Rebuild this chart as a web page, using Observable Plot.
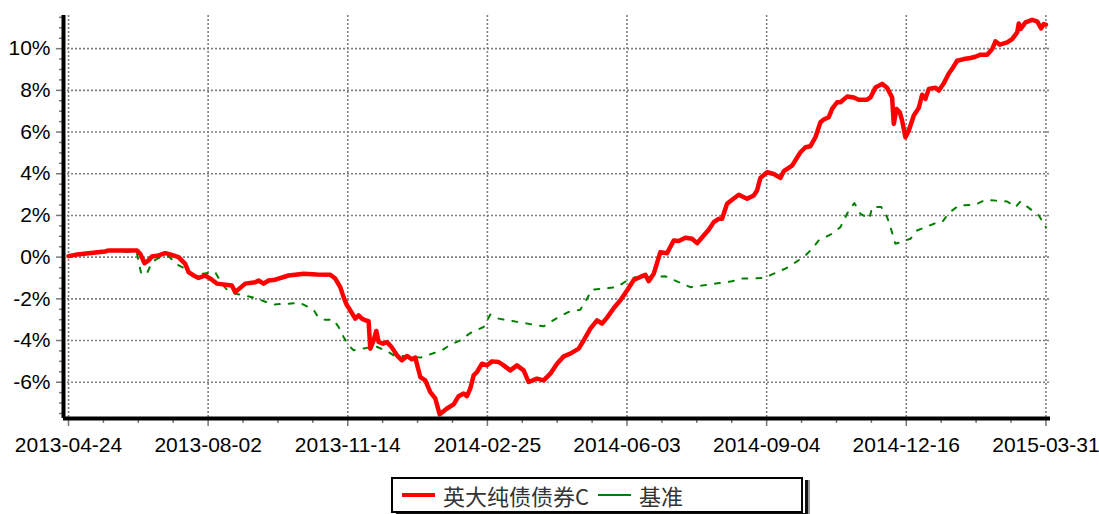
<!DOCTYPE html>
<html>
<head>
<meta charset="utf-8">
<script src="https://cdn.jsdelivr.net/npm/d3@7"></script>
<script src="https://cdn.jsdelivr.net/npm/@observablehq/plot@0.6"></script>
<style>
  html, body { margin: 0; padding: 0; background: #fff; }
  #wrap { position: relative; width: 1099px; height: 514px; overflow: hidden; }
  #wrap svg { display: block; }
  #legend {
    position: absolute; left: 391px; top: 477px; width: 412px; height: 36px;
    box-sizing: border-box; border: 2px solid #000; background: #fff;
    display: flex; align-items: center;
    font-family: "Noto Sans CJK SC", "Liberation Sans", sans-serif; font-size: 22px; color: #333;
    box-shadow: 2px 0 0 0 #fff, 5px 3px 0 0 #111, 7px 3px 0 0 #999;
  }
  #legend .sw { display: inline-block; width: 33px; }
  #legend .lab { margin-left: 8px; white-space: nowrap; }
</style>
</head>
<body>
<div id="wrap"></div>
<script>
// Tick labels (x axis positions are trading-day indices)
const tickDates = ["2013-04-24","2013-08-02","2013-11-14","2014-02-25","2014-06-03","2014-09-04","2014-12-16","2015-03-31"];
const tickDays = [0, 67, 134, 201, 268, 335, 402, 469];
const yTicks = [-6, -4, -2, 0, 2, 4, 6, 8, 10];

const seriesNames = ["英大纯债债券C", "基准"];
const seriesColors = ["#ff0000", "#008000"];

// 英大纯债债券C cumulative return (%) — [trading day, value]
const fundPoints = [
  [0,0.05],[3.2,0.11],[9.6,0.19],[17.6,0.27],[19.2,0.32],[32.8,0.32],[34.4,0.16],[36.5,-0.29],[38.4,-0.16],
  [40.0,0.03],[43.2,0.08],[46.4,0.19],[48.8,0.13],[52.8,0],[56.0,-0.32],[57.6,-0.72],[60.0,-0.88],[62.4,-1.0],
  [65.6,-0.88],[68.8,-1.08],[71.2,-1.27],[78.4,-1.36],[80.0,-1.68],[84.8,-1.27],[89.6,-1.2],[91.2,-1.12],
  [93.6,-1.27],[96.0,-1.12],[99.2,-1.08],[105.6,-0.88],[112.8,-0.80],[119.2,-0.83],[125.6,-0.84],[128.0,-1.03],
  [130.4,-1.44],[132.0,-1.92],[133.6,-2.31],[135.2,-2.55],[137.6,-2.95],[139.2,-2.79],[140.8,-2.95],[142.4,-3.03],
  [144.0,-3.07],[144.8,-4.39],[146.4,-3.99],[147.7,-3.54],[148.8,-4.07],[150.9,-4.15],[152.8,-4.07],[155.2,-4.34],
  [157.6,-4.71],[160.0,-4.95],[162.4,-4.74],[164.8,-4.9],[166.4,-4.82],[168.8,-5.75],[171.2,-5.91],[173.6,-6.47],
  [176.0,-6.78],[178.1,-7.54],[181.6,-7.26],[184.8,-7.06],[187.2,-6.67],[189.6,-6.54],[191.2,-6.67],[192.8,-6.3],
  [194.4,-5.67],[196.0,-5.51],[198.4,-5.11],[200.8,-5.19],[203.2,-5.0],[206.4,-5.03],[208.8,-5.19],[212.0,-5.43],
  [215.2,-5.19],[218.4,-5.43],[220.8,-5.99],[224.8,-5.83],[228.0,-5.91],[231.2,-5.59],[234.4,-5.11],[237.6,-4.76],
  [240.8,-4.63],[244.8,-4.39],[247.2,-3.99],[250.4,-3.43],[253.6,-3.03],[256.0,-3.19],[258.4,-2.9],[261.6,-2.45],
  [264.8,-2.07],[268.0,-1.6],[271.2,-1.1],[274.4,-0.95],[276.8,-0.85],[278.4,-1.15],[280.8,-0.8],[284.0,0.24],
  [287.2,0.19],[290.4,0.8],[292.8,0.77],[296.0,0.93],[299.2,0.88],[301.6,0.67],[304.8,1.04],[307.2,1.31],
  [309.6,1.68],[312.0,1.84],[313.6,1.84],[316.0,2.56],[318.4,2.75],[321.6,2.99],[325.6,2.80],[328.8,2.96],
  [330.4,3.2],[332.0,3.80],[335.2,4.07],[338.4,3.99],[341.6,3.80],[343.2,4.12],[347.2,4.39],[351.2,5.03],
  [353.6,5.27],[356.0,5.32],[358.4,5.75],[360.8,6.47],[362.4,6.60],[364.8,6.71],[366.4,7.11],[368.8,7.43],
  [370.4,7.43],[373.6,7.70],[376.8,7.66],[379.2,7.55],[383.2,7.55],[384.8,7.66],[387.2,8.14],[390.4,8.31],
  [392.8,8.12],[395.2,7.66],[396.0,6.39],[397.3,7.11],[398.9,6.95],[400.0,6.55],[401.6,5.75],[403.2,6.07],
  [405.6,6.79],[408.0,7.16],[409.6,7.79],[411.2,7.59],[412.8,8.07],[416.0,8.12],[417.6,7.99],[420.0,8.34],
  [422.4,8.81],[424.0,9.03],[426.4,9.42],[429.6,9.50],[432.8,9.55],[435.2,9.61],[437.6,9.71],[440.8,9.71],
  [443.2,9.98],[444.8,10.35],[446.9,10.19],[450.4,10.30],[452.8,10.46],[455.2,10.78],[456.0,11.21],[456.8,10.94],
  [459.2,11.26],[462.4,11.38],[464.8,11.31],[466.7,10.97],[468.0,11.18],[469.0,11.15]
];

// 基准 cumulative return (%) — [trading day, value]
const benchPoints = [
  [0,0.05],[4.8,0.16],[16.8,0.32],[28.8,0.25],[32.8,0.2],[34.9,-0.8],[37.6,-0.8],[40.0,-0.24],[43.0,-0.05],
  [48.0,0.05],[52.0,-0.35],[57.6,-0.64],[60.0,-0.88],[64.0,-0.8],[70.4,-0.72],[73.6,-1.27],[76.0,-1.56],
  [80.0,-1.75],[88.0,-1.92],[98.4,-2.27],[111.2,-2.2],[117.6,-2.52],[119.2,-2.79],[122.4,-3.0],[127.2,-3.0],
  [129.6,-3.35],[132.0,-3.83],[134.4,-4.23],[136.8,-4.47],[144.0,-4.34],[146.4,-4.23],[153.6,-4.55],[156.0,-4.71],
  [168.8,-4.82],[179.2,-4.47],[183.2,-4.2],[188.0,-3.99],[192.8,-3.64],[199.2,-3.35],[202.4,-2.75],[206.4,-2.95],
  [215.6,-3.11],[228.0,-3.32],[235.2,-2.87],[240.0,-2.63],[245.6,-2.52],[248.8,-1.99],[251.2,-1.56],[263.2,-1.44],
  [268.0,-1.12],[272.0,-0.96],[275.2,-0.96],[286.4,-0.92],[298.4,-1.44],[310.4,-1.27],[318.4,-1.16],[322.4,-1.03],
  [333.6,-1.0],[344.0,-0.55],[348.8,-0.25],[353.6,0.08],[356.8,0.4],[360.0,0.8],[366.4,1.12],[370.4,1.44],
  [374.4,2.24],[377.1,2.59],[380.0,2.08],[384.3,1.84],[385.6,2.40],[390.0,2.40],[392.8,1.92],[394.4,1.44],
  [396.8,0.64],[404.0,0.88],[407.2,1.28],[416.0,1.63],[419.2,1.68],[422.4,2.11],[427.2,2.48],[435.2,2.52],
  [440.0,2.75],[450.4,2.67],[454.4,2.40],[456.8,2.67],[462.4,2.24],[465.6,2.0],[469.0,1.44]
];

const fundData = fundPoints.map(([day, value]) => ({day, value}));
const benchData = benchPoints.map(([day, value]) => ({day, value}));

const xDomain = [-2.4, 471.2];
const yDomain = [-7.74, 11.59];
const xMinor = d3.range(0, 470, 67 / 4).filter(d => !tickDays.some(t => Math.abs(t - d) < 0.5));
const yMinor = d3.range(-7.5, 11.6, 0.5).filter(d => !yTicks.includes(d));

const gridStyle = {stroke: "#808080", strokeOpacity: 1, strokeWidth: 1.6, strokeDasharray: "2,2"};

const chart = Plot.plot({
  width: 1099,
  height: 470,
  marginLeft: 63,
  marginRight: 49,
  marginTop: 15,
  marginBottom: 52,
  x: {type: "linear", domain: xDomain},
  y: {type: "linear", domain: yDomain},
  style: {fontSize: "21px", fontFamily: "'Liberation Sans', Arial, sans-serif", color: "#000", background: "#fff", overflow: "visible"},
  marks: [
    Plot.gridY(yTicks, gridStyle),
    Plot.gridX(tickDays, gridStyle),
    Plot.axisY(yMinor, {anchor: "left", tickSize: 4, tickFormat: () => "", label: null, stroke: "#777", strokeWidth: 1.5}),
    Plot.axisY(yTicks, {anchor: "left", tickSize: 7, tickPadding: 6, tickFormat: d => `${d}%`, label: null, stroke: "#777", strokeWidth: 1.5}),
    Plot.axisX(xMinor, {anchor: "bottom", tickSize: 5, tickFormat: () => "", label: null, stroke: "#777", strokeWidth: 1.5}),
    Plot.axisX(tickDays, {anchor: "bottom", tickSize: 8, tickPadding: 11, tickFormat: d => tickDates[tickDays.indexOf(d)], label: null, stroke: "#777", strokeWidth: 1.5}),
    Plot.line(benchData, {x: "day", y: "value", stroke: seriesColors[1], strokeWidth: 2, strokeDasharray: "5,9"}),
    Plot.line(fundData, {x: "day", y: "value", stroke: seriesColors[0], strokeWidth: 4.5, strokeLinejoin: "round"}),
    Plot.ruleX([xDomain[0]], {stroke: "#000", strokeWidth: 4}),
    Plot.ruleY([yDomain[0]], {stroke: "#000", strokeWidth: 4})
  ]
});

const wrap = document.getElementById("wrap");
wrap.appendChild(chart);

const legend = document.createElement("div");
legend.id = "legend";
seriesNames.forEach((name, i) => {
  const sw = document.createElement("span");
  sw.className = "sw";
  sw.style.height = (i === 0 ? 4 : 2) + "px";
  sw.style.background = seriesColors[i];
  sw.style.marginLeft = "9px";
  const lab = document.createElement("span");
  lab.className = "lab";
  lab.textContent = name;
  legend.appendChild(sw);
  legend.appendChild(lab);
});
wrap.appendChild(legend);
</script>
</body>
</html>
